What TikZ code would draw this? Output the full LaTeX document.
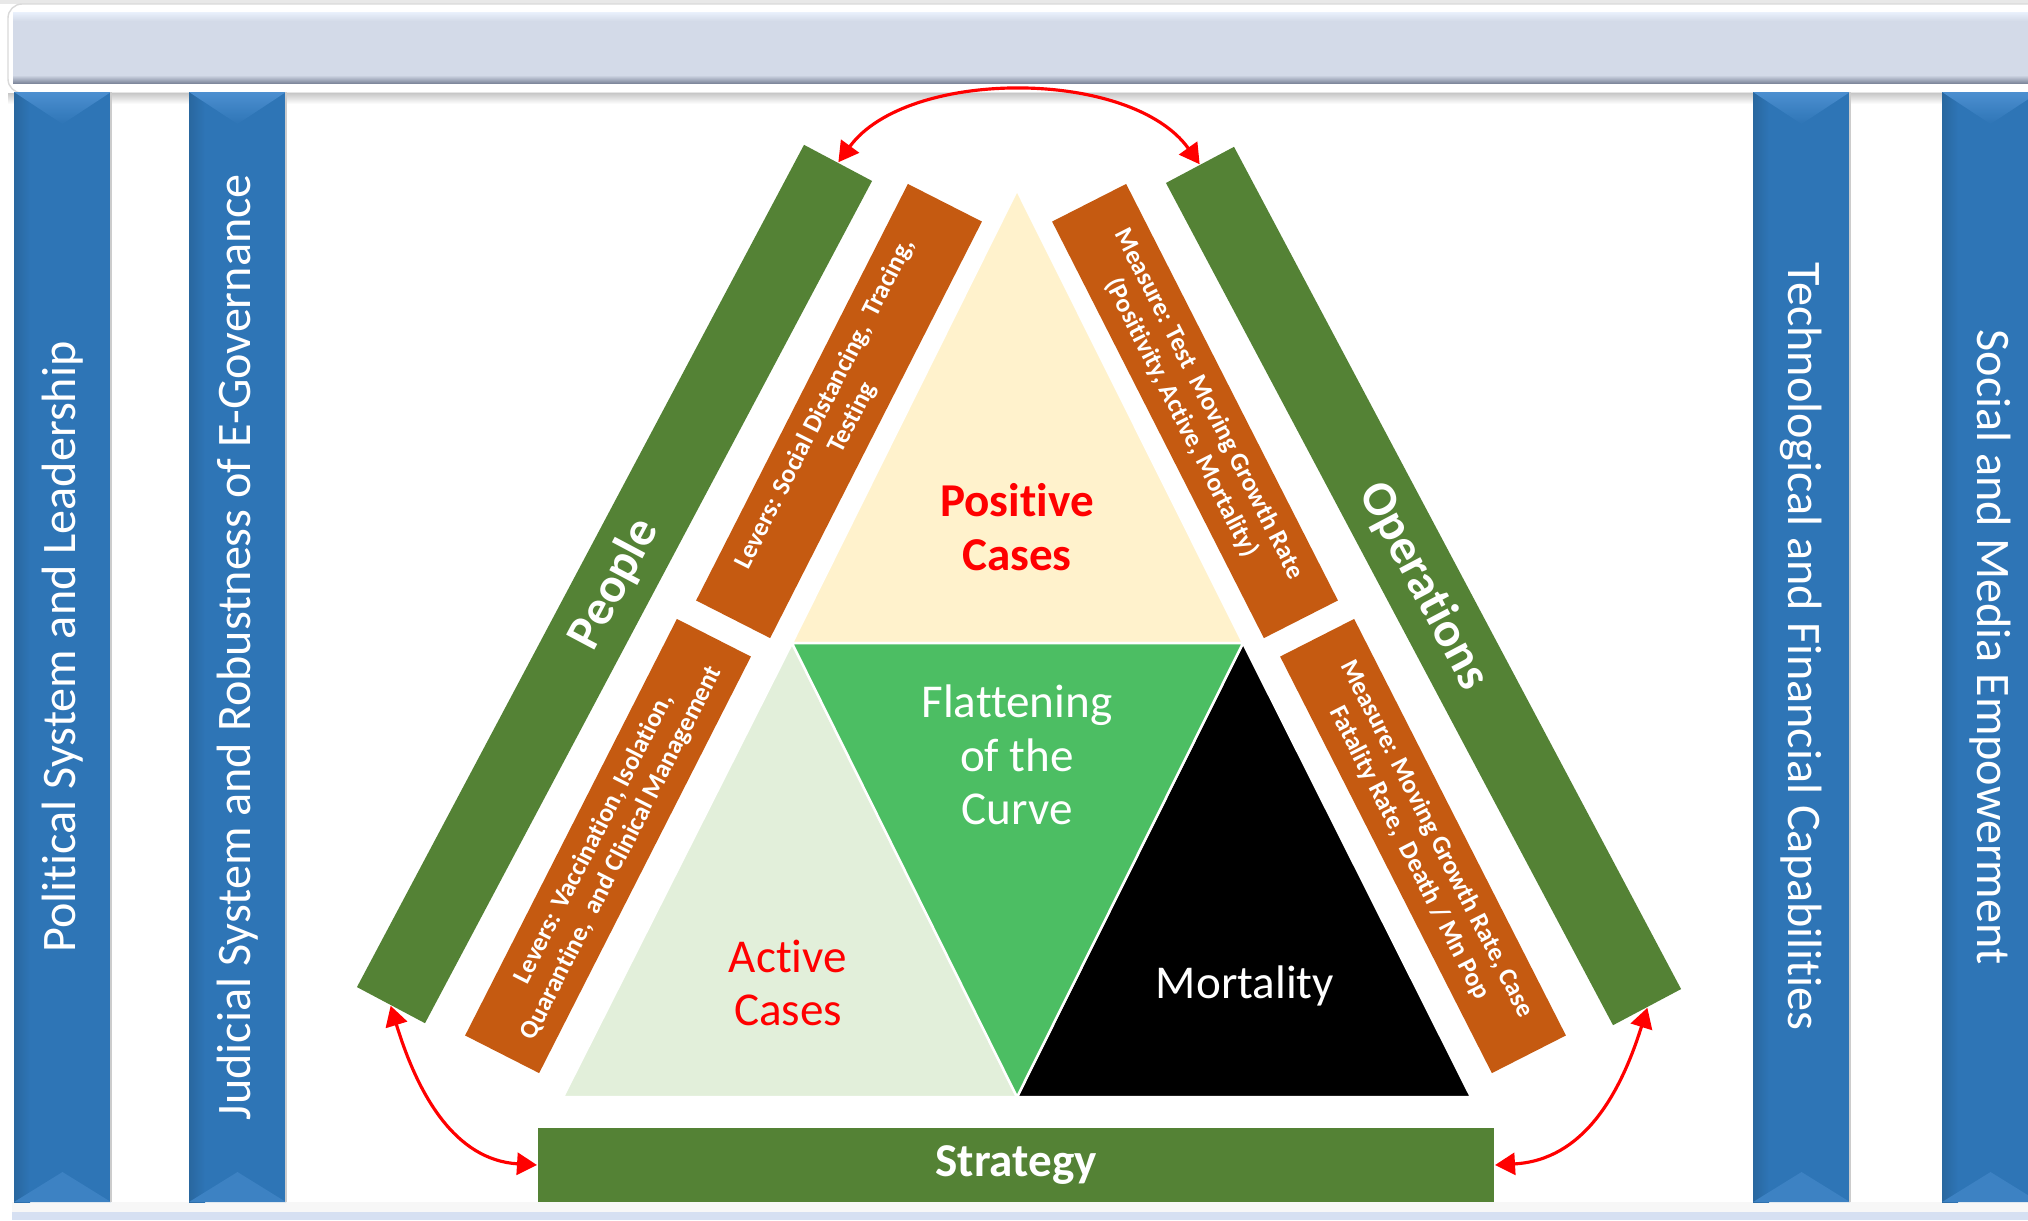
\documentclass[tikz,border=0pt]{standalone}
\usepackage{xcolor}
\usepackage{fontspec}
\setmainfont{Carlito}[Ligatures={NoCommon}]
\usepackage{tikz}
\usetikzlibrary{arrows.meta,positioning}

\definecolor{pillarblue}{HTML}{2E75B6}
\definecolor{pillarlight}{HTML}{4C8FD0}
\definecolor{pillardark}{HTML}{29679F}
\definecolor{bargreen}{HTML}{548235}
\definecolor{barorange}{HTML}{C55A11}
\definecolor{creamtri}{HTML}{FFF2CC}
\definecolor{flattri}{HTML}{4CBE63}
\definecolor{activetri}{HTML}{E2EFDA}
\definecolor{bannerfill}{HTML}{D3DAE8}
\definecolor{bannertop}{HTML}{EAF1FC}
\definecolor{banneredge}{HTML}{7F889C}
\definecolor{bottomband}{HTML}{D6E0F2}

\begin{document}
\begin{tikzpicture}[y=-0.01cm,x=0.01cm,
	pillartext/.style={text=white,inner sep=0pt,font=\fontsize{13.7}{16}\selectfont},
	greenbar/.style={fill=bargreen,text=white,inner sep=0pt,minimum width=9.53cm,minimum height=0.77cm,font=\bfseries\fontsize{14}{16}\selectfont},
	orangebar/.style={fill=barorange,text=white,inner sep=0pt,minimum width=4.67cm,minimum height=0.83cm,align=center,font=\bfseries\fontsize{7.4}{8.8}\selectfont},
	tri/.style={draw=white,line width=0.7pt},
	trilabel/.style={align=center,inner sep=0pt,font=\fontsize{13.4}{15.2}\selectfont},
	link/.style={red,line width=0.9pt,{Triangle[length=0.2cm,width=0.22cm]}-{Triangle[length=0.2cm,width=0.22cm]}}]
	\newcommand\Pillar{[fill=pillarblue] +(0,0) rectangle +(97,1110)}
	\newcommand\PillarEdge{[left color=pillardark, right color=pillarblue] +(0,0) rectangle +(16,1110)}
	\newcommand\PillarCap{[top color=pillarlight, bottom color=pillarblue] +(0,0) -- +(97,0) -- +(48.5,32) -- cycle}
	\newcommand\PillarFoot{[top color=pillarblue, bottom color=pillarlight!50!pillarblue] +(0,1110) -- +(48.5,1080) -- +(97,1110) -- cycle}

	\useasboundingbox (0,0) rectangle (2028,1220);
	\fill[white] (0,0) rectangle (2028,1220);
	\fill[black!9] (0,0) rectangle (2028,4);

	\draw[black!15, fill=white, rounded corners=4] (8,4) rectangle (2060,93);
	\fill[bannerfill] (13,12) rectangle (2060,83);
	\shade[top color=bannertop, bottom color=bannerfill] (13,12) rectangle (2060,21);
	\shade[top color=bannerfill, bottom color=banneredge] (13,75) rectangle (2060,83);
	\shade[top color=black!22, bottom color=white] (8,93) rectangle (2060,104);

	\fill[black!3] (12,1202) rectangle (2060,1212);
	\fill[bottomband] (12,1212) rectangle (2060,1220);

	\foreach \px in {14,189,1753,1942} {
		\path (\px,92) \Pillar;
		\path (\px,92) \PillarEdge;
		\path (\px,92) \PillarCap;
		\path (\px,92) \PillarFoot;
		\draw[black!20] (\px+97,92) -- (\px+97,1202);
	}

	\node[pillartext, rotate=90] (political) at (62.5,647) {Political System and Leadership};
	\node[pillartext, rotate=90] (judicial) at (238,647) {Judicial System and Robustness of E-Governance};
	\node[pillartext, rotate=-90] (technological) at (1801.5,647) {Technological and Financial Capabilities};
	\node[pillartext, rotate=-90] (social) at (1990.5,647) {Social and Media Empowerment};

	\coordinate (apex) at (1017,190);
	\coordinate (midl) at (792,643);
	\coordinate (midr) at (1243,643);
	\coordinate (botl) at (563,1097);
	\coordinate (botm) at (1017,1097);
	\coordinate (botr) at (1471,1097);

	\filldraw[tri, fill=creamtri] (apex) -- (midl) -- (midr) -- cycle;
	\filldraw[tri, fill=activetri] (midl) -- (botl) -- (botm) -- cycle;
	\filldraw[tri, fill=black] (midr) -- (botm) -- (botr) -- cycle;
	\filldraw[tri, fill=flattri] (midl) -- (midr) -- (botm) -- cycle;

	\node[trilabel, text=red, font=\bfseries\fontsize{13.4}{15.2}\selectfont] (positive) at (1017,527) {Positive\\Cases};
	\node[trilabel, text=white] (flatten) at (1017,755) {Flattening\\of the\\Curve};
	\node[trilabel, text=red] (active) at (788,983) {Active\\Cases};
	\node[trilabel, text=white] (mortality) at (1245,986) {Mortality};

	\node[orangebar, rotate=63.05] (leversa) at (839,411) {Levers: Social Distancing,\ \ Tracing,\\Testing};
	\node[orangebar, rotate=63.05] (leversb) at (608,846) {Levers: Vaccination, Isolation,\\Quarantine,\ \ and Clinical Management};
	\node[orangebar, rotate=-63.05] (measurea) at (1195,411) {Measure: Test\ \ Moving Growth Rate\\(Positivity, Active, Mortality)};
	\node[orangebar, rotate=-63.05] (measureb) at (1423,846) {Measure: Moving Growth Rate, Case\\Fatality Rate,\ \ Death / Mn Pop};

	\node[greenbar, rotate=62.04] (people) at (614.5,584) {People};
	\node[greenbar, rotate=-62.04] (operations) at (1423.5,586) {Operations};
	\node[greenbar, minimum width=9.56cm, minimum height=0.74cm, font=\bfseries\fontsize{13.4}{16}\selectfont] (strategy) at (1016,1165) {Strategy};

	\draw[link] (people.east) .. controls (907,68) and (1131,68) .. (operations.west);
	\draw[link] (people.west) .. controls (418,1095) and (455,1160) .. (strategy.west);
	\draw[link] (operations.east) .. controls (1620,1095) and (1583,1160) .. (strategy.east);
\end{tikzpicture}
\end{document}
